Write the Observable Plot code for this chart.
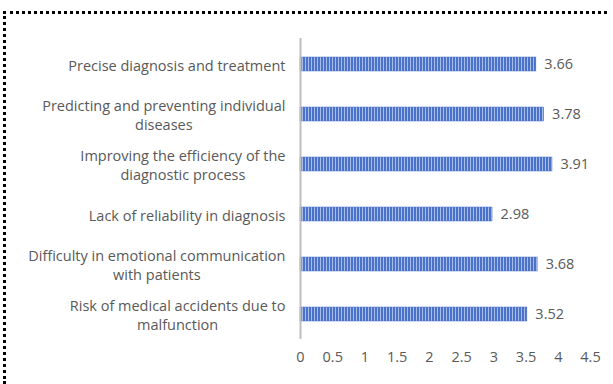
<!DOCTYPE html>
<html>
<head>
<meta charset="utf-8">
<script src="https://cdn.jsdelivr.net/npm/d3@7"></script>
<script src="https://cdn.jsdelivr.net/npm/@observablehq/plot@0.6"></script>
<style>
  html, body { margin: 0; padding: 0; background: #fff; overflow: hidden; }
  #wrap { position: relative; width: 613px; height: 384px; overflow: hidden; }
  #topline { position: absolute; left: 3px; top: 11px; width: 604px; height: 0;
             border-top: 3px dotted #000; }
  #leftline { position: absolute; left: 3px; top: 11px; width: 0; height: 373px;
              border-left: 3px dotted #000; }
  #chart { position: absolute; left: 0; top: 0; }
</style>
</head>
<body>
<div id="wrap"><div id="topline"></div><div id="leftline"></div><div id="chart"></div></div>
<script>
const categories = [
  "Precise diagnosis and treatment",
  "Predicting and preventing individual\ndiseases",
  "Improving the efficiency of the\ndiagnostic process",
  "Lack of reliability in diagnosis",
  "Difficulty in emotional communication\nwith patients",
  "Risk of medical accidents due to\nmalfunction"
];
const values = [3.66, 3.78, 3.91, 2.98, 3.68, 3.52];
const xTicks = [0, 0.5, 1, 1.5, 2, 2.5, 3, 3.5, 4, 4.5];

const data = categories.map((c, i) => ({category: c, value: values[i]}));

const plot = Plot.plot({
  width: 613,
  height: 384,
  marginLeft: 300,
  marginRight: 23,
  marginTop: 38,
  marginBottom: 45,
  style: {fontFamily: "'Open Sans', sans-serif", fontSize: "14.5px", color: "#595959", background: "transparent"},
  x: {domain: [0, 4.5], ticks: xTicks, tickFormat: d => String(d), label: null},
  y: {domain: categories, paddingInner: 0.72, paddingOuter: 0.36, label: null},
  marks: [
    Plot.barX(data, {x: "value", y: "category", fill: "url(#stripes)", stroke: "#4a6fc6", strokeWidth: 0.5}),
    Plot.text(data, {x: "value", y: "category", text: d => d.value.toFixed(2), textAnchor: "start", dx: 8, fill: "#595959", fontSize: 14.5}),
    Plot.ruleX([0], {stroke: "#bfbfbf", strokeWidth: 2}),
    Plot.axisX({ticks: xTicks, tickSize: 0, tickPadding: 12, fill: "#595959", fontSize: 14.5, tickFormat: d => String(d)}),
    Plot.axisY({tickSize: 0, tickPadding: 15, fill: "#595959", fontSize: 14.5, lineHeight: 1.3, textAnchor: "end"})
  ]
});

// stripe pattern definition
const ns = "http://www.w3.org/2000/svg";
const defs = document.createElementNS(ns, "defs");
defs.innerHTML = `<pattern id="stripes" patternUnits="userSpaceOnUse" width="3" height="10">
  <rect width="3" height="10" fill="#4a72c8"/>
  <rect x="2" width="1" height="10" fill="#a9bdea"/>
</pattern>`;
plot.insertBefore(defs, plot.firstChild);

document.getElementById("chart").appendChild(plot);

// center multi-line category labels relative to each other, keeping right edge
const yAxis = plot.querySelector("g[aria-label='y-axis tick label']");
if (yAxis) {
  yAxis.querySelectorAll("text").forEach(t => {
    const w = t.getBBox().width;
    t.setAttribute("text-anchor", "middle");
    const tr = t.getAttribute("transform") || "";
    t.setAttribute("transform", tr + ` translate(${-w / 2},0)`);
  });
}
</script>
</body>
</html>
